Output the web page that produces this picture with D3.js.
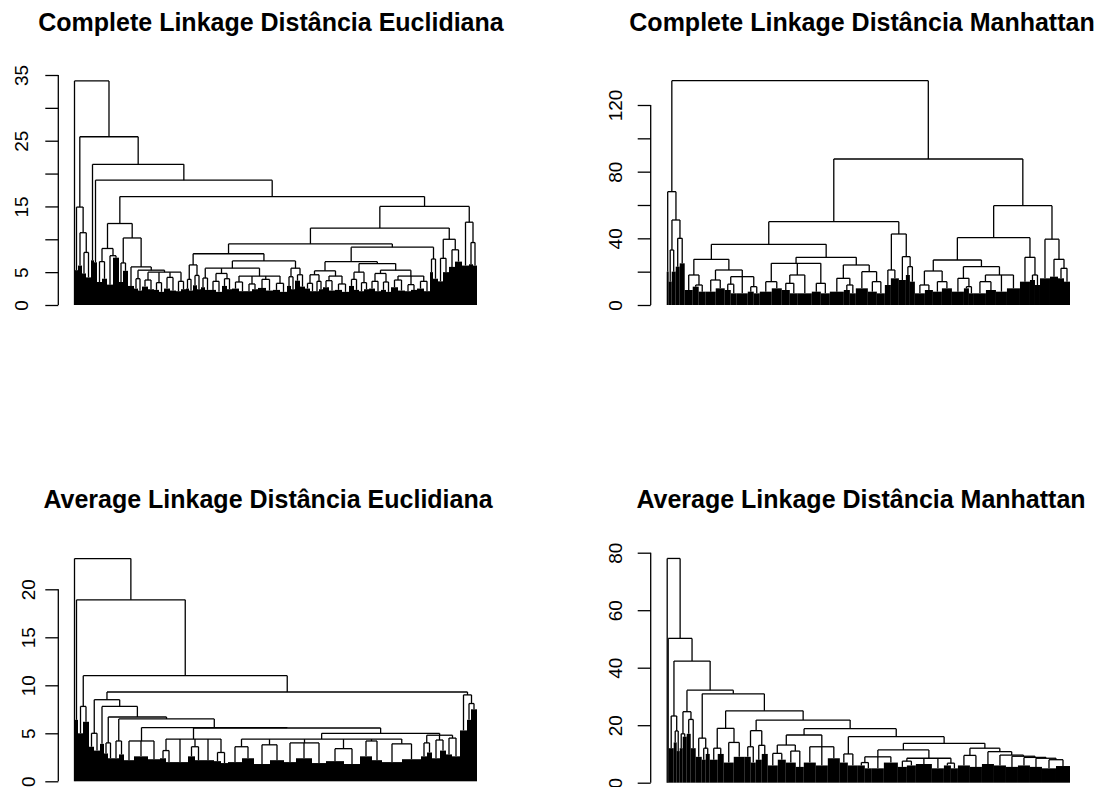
<!DOCTYPE html>
<html>
<head>
<meta charset="utf-8">
<script src="https://cdn.jsdelivr.net/npm/d3@7"></script>
<style>
  body { margin: 0; background: #fff; }
  text { font-family: "Liberation Sans", Arial, sans-serif; }
</style>
</head>
<body>
<div id="chart"></div>
<script>
// trees: a node is [height, child, child, ...]; a dense leaf group is [n observations, max height]
// [1, 0] is a single observation

// Complete linkage, Euclidean
const ceB = [14.9, [3, 5.3], [11.0, [4, 6.0], [8.0, [4, 4.8], [5, 4.2]]]];
const ceG = [8.6, [6.6, [5, 3.5], [5, 4.0]], [7.5, [6, 3.1], [6, 7.2]]];
const ceH = [10.2, [6.4, [4, 3.5], [5, 5.2]],
  [5.8, [6, 2.9], [5.3, [4.0, [4, 2.5], [4, 2.2]],
    [5.0, [3.8, [6, 2.8], [6, 2.4]], [3.4, [5, 2.3], [5, 2.0]], [4.2, [6, 2.5], [6, 2.2]], [3.6, [5, 2.1], [5, 2.4]]]]]];
const ceN = [7.8, [6.1, [3.9, [3, 2.5], [4, 2.2]], [4.5, [4, 3.0], [4, 2.4]]],
  [6.7, [5.6, [4.1, [4, 2.7], [5, 2.3]], [4.8, [3.6, [6, 2.3], [6, 2.0]], [4.0, [5, 2.9], [5, 2.4]]],
              [4.4, [3.5, [7, 2.5], [7, 2.1]], [3.2, [6, 2.1], [6, 2.4]], [3.9, [8, 2.6], [7, 2.2]], [3.3, [7, 2.3], [7, 2.0]]]],
        [5.6, [4.3, [4, 2.9], [4, 2.4]], [4.6, [5, 3.7], [5, 2.8]]]]];
const ceO = [8.8,
  [6.6, [5.2, [4.6, [3.3, [5, 2.5], [5, 2.1]], [3.6, [4, 2.1], [4, 2.4]]], [4.4, [3.7, [6, 2.7], [6, 2.2]], [3.2, [7, 2.3], [7, 2.0]]]],
        [6.3, [5.0, [3.9, [5, 2.9], [5, 2.3]], [3.4, [5, 2.1], [5, 2.4]]],
              [5.3, [4.8, [3.6, [6, 2.5], [6, 2.1]], [3.5, [5, 2.3], [5, 2.0]]],
                    [4.4, [3.8, [7, 2.7], [7, 2.2]], [3.1, [6, 2.1], [6, 2.3]], [3.6, [7, 2.5], [6, 2.1]]]]]],
  [7.0, [3, 5.0], [5, 4.0]]];
const ceM = [10.0, [7.1, [5, 3.6], [6, 5.0]], [8.4, [6, 5.8], [7, 6.6]]];
const ceJr = [12.6, [7, 6.0], [9.5, [4, 6.2], [4, 6.0]]];
const treeCE = [34.1, [1, 0], [25.6, ceB, [21.4, [3, 6.8], [19.0, [3, 6.5],
  [16.5, [12.4, ceG, ceH], [15.0, [11.7, [9.3, ceN, ceO], ceM], ceJr]]]]]];

// Complete linkage, Manhattan
const cmRL = [68.0, [2, 20], [51.0, [33.0, [3, 14], [4, 20]], [40.0, [4, 23], [5, 25]]]];
const cmRa = [27.4, [18.0, [8, 9], [12.0, [6, 11], [7, 8]]],
  [21.0, [15.0, [10, 8], [9, 10]], [17.0, [12.5, [6, 9], [6, 7]], [11, 7], [11.0, [6, 8], [6, 7]]]]];
const cmRb = [28.6, [25.0, [14.0, [12, 8], [10, 10]], [18.0, [13.0, [8, 9], [8, 7]], [14, 7]], [13.0, [9, 8], [9, 7]]],
  [24.0, [16.0, [14, 8], [12.0, [6, 9], [6, 7]]], [20.0, [12, 10], [14.0, [9, 8], [8, 7]]]]];
const cmS = [42.6, [21.0, [6, 12], [8, 16]], [29.0, [7, 15], [23.0, [4, 18], [5, 14]]]];
const cmW = [27.0, [20.4, [12.0, [10, 7], [8, 9]], [14.0, [9, 8], [10, 10]]],
  [23.0, [16.0, [12, 8], [11.0, [5, 10], [5, 7]]], [18.0, [14.0, [12, 7], [10, 9]], [11, 8], [13, 10]]]];
const cmUr = [28.6, [10, 14], [18.0, [5, 15], [5, 12]]];
const cmV = [39.5, [10, 16], [27.4, [8, 17], [22.0, [6, 16], [6, 14]]]];
const treeCM = [134.6, cmRL, [87.6, [50.0, [36.4, cmRa, cmRb], cmS], [59.6, [40.4, cmW, cmUr], cmV]]];

// Average linkage, Euclidean
const aeN1L = [4.2, [10, 2.2], [14, 2.6], [12, 2.3]];
const aeN2L = [4.4, [3.2, [6, 2.4], [6, 2.0]], [16, 2.0], [3.6, [7, 2.6], [7, 2.2]], [12, 2.2], [3.0, [7, 2.1], [7, 1.9]]];
const aeN2R = [5.0,
  [4.4, [3.6, [14, 2.0], [12, 2.4]], [3.8, [16, 1.8], [14, 2.2]], [4.0, [12, 2.0], [16, 2.4], [14, 1.9]],
        [3.4, [18, 2.1], [16, 1.8]], [4.2, [12, 2.6], [10, 2.2]], [3.9, [20, 2.0], [19, 2.3]]],
  [4.8, [4.0, [6, 2.6], [5, 3.0]], [4.3, [8, 2.4], [6, 3.2]], [4.5, [6, 2.8], [8, 2.6]]]];
const aeZr = [9.0, [7, 5.3], [8.1, [4, 6.4], [6, 7.5]]];
const aeChain = [8.5, [5.0, [5, 3.6], [6, 3.2]],
  [7.8, [4, 3.9],
    [6.7, [4.0, [4, 2.9], [5, 2.4]],
      [6.5, [4.2, [6, 2.4], [5, 2.8]],
        [5.6, aeN1L, [5.55, aeN2L, aeN2R]]]]]];
const treeAE = [23.2, [1, 0], [18.9, [3, 6.4], [11.0, [7.8, [5, 5.0], [6, 6.2]], [9.3, aeChain, aeZr]]]];

// Average linkage, Manhattan
const amNA = [23.2, [5, 12], [18.0, [3, 14], [3, 11]]];
const amN32L = [24.7, [17.0, [3, 12], [4, 16]], [22.0, [4, 17], [5, 12]]];
const amN31L = [15.5, [6, 9], [12.0, [4, 8], [4, 10]]];
const amN17 = [18.9, [12.0, [8, 8], [6, 10]], [14.0, [10, 7], [11, 9]]];
const amN21L = [18.1, [12.5, [6, 9], [5, 7]], [13.0, [6, 8], [6, 10]]];
const amN18L = [16.6, [13.1, [10.2, [10, 6], [8, 8]], [11.0, [10, 7], [8, 5.5]]], [12.5, [12, 7], [12, 6], [12, 8.5]]];
const amL2 = [11.4, [9.0, [7.0, [7, 6], [7, 5]], [12, 5], [14, 7]],
  [8.5, [7.5, [9, 5.5], [9, 6]], [16, 6.5], [12, 5], [6.8, [7, 6], [7, 5]]]];
const amC12 = [12.0, [9.5, [12, 6], [12, 5.5]], [10.8, [12, 6.5], [9.6, [12, 6], [9.2, [12, 5.5],
  [8.8, [12, 6], [8.5, [12, 5.5], [8.0, [14, 5], [14, 5.8]]]]]]]];
const amChain = [16.0, [10.0, [8, 7], [10, 6]], [13.7, amL2, amC12]];
const treeAM = [78.0, [1, 0], [50.2, [1, 0], [42.3, amNA, [32.2, amN32L, [30.9, amN31L,
  [25.0, amN17, [21.8, amN21L, [18.8, amN18L, amChain]]]]]]]];

// axes
const ticksCE = [0, 5, 10, 15, 20, 25, 30, 35];
const labelsCE = ["0", "5", "", "15", "", "25", "", "35"];
const ticksCM = [0, 20, 40, 60, 80, 100, 120];
const labelsCM = ["0", "", "40", "", "80", "", "120"];
const ticksAE = [0, 5, 10, 15, 20];
const labelsAE = ["0", "5", "10", "15", "20"];
const ticksAM = [0, 20, 40, 60, 80];
const labelsAM = ["0", "20", "40", "60", "80"];

const titles = [
  "Complete Linkage Distância Euclidiana",
  "Complete Linkage Distância Manhattan",
  "Average Linkage Distância Euclidiana",
  "Average Linkage Distância Manhattan"
];

const panels = [
  { title: titles[0], tree: treeCE, ticks: ticksCE, labels: labelsCE,
    x0: 74, x1: 477, axisX: 58.3, yZero: 305, yRef: 75, refVal: 35, titleX: 271, titleY: 31, labelOff: 30 },
  { title: titles[1], tree: treeCM, ticks: ticksCM, labels: labelsCM,
    x0: 666.7, x1: 1070, axisX: 650.7, yZero: 305, yRef: 105, refVal: 120, titleX: 862, titleY: 31, labelOff: 29 },
  { title: titles[2], tree: treeAE, ticks: ticksAE, labels: labelsAE,
    x0: 74, x1: 477, axisX: 58.3, yZero: 781.3, yRef: 589.3, refVal: 20, titleX: 268, titleY: 508, labelOff: 23 },
  { title: titles[3], tree: treeAM, ticks: ticksAM, labels: labelsAM,
    x0: 666.7, x1: 1070, axisX: 650.7, yZero: 782.7, yRef: 552.7, refVal: 80, titleX: 861, titleY: 508, labelOff: 29 }
];

const svg = d3.select("#chart").append("svg")
  .attr("width", 1108)
  .attr("height", 787);

// walk the tree left to right, leaf groups get consecutive observation slots
function layout(tree) {
  let pos = 0;
  const segs = [], blocks = [];
  function walk(d) {
    if (!Array.isArray(d[1])) {
      const x0 = pos;
      pos += d[0];
      blocks.push({ x0: x0, x1: pos, h: d[1] });
      return { x: (x0 + pos) / 2, h: d[1] };
    }
    const kids = d.slice(1).map(walk);
    kids.forEach(k => segs.push([k.x, k.h, k.x, d[0]]));
    segs.push([kids[0].x, d[0], kids[kids.length - 1].x, d[0]]);
    return { x: (kids[0].x + kids[kids.length - 1].x) / 2, h: d[0] };
  }
  walk(tree);
  return { segs, blocks, n: pos };
}

function drawPanel(p) {
  const lay = layout(p.tree);
  const x = d3.scaleLinear().domain([0, lay.n]).range([p.x0, p.x1]);
  const y = d3.scaleLinear().domain([0, p.refVal]).range([p.yZero, p.yRef]);
  const g = svg.append("g");

  // dense bottom of the dendrogram
  g.selectAll("rect")
    .data(lay.blocks.filter(b => b.h > 0))
    .join("rect")
    .attr("x", b => x(b.x0))
    .attr("width", b => x(b.x1) - x(b.x0))
    .attr("y", b => y(b.h))
    .attr("height", b => y(0) - y(b.h))
    .attr("fill", "#000");

  g.selectAll("path.link")
    .data(lay.segs)
    .join("path")
    .attr("class", "link")
    .attr("d", s => `M${x(s[0])},${y(s[1])}L${x(s[2])},${y(s[3])}`)
    .attr("stroke", "#000")
    .attr("stroke-width", 1.3)
    .attr("fill", "none");

  // y axis, R style: line only between first and last tick, rotated labels
  const axis = d3.axisLeft(y)
    .tickValues(p.ticks)
    .tickSize(13)
    .tickSizeOuter(0)
    .tickFormat((d, i) => p.labels[i]);
  const ga = g.append("g")
    .attr("transform", `translate(${p.axisX},0)`)
    .attr("font-family", null)
    .call(axis);
  ga.select(".domain").remove();
  ga.append("line")
    .attr("y1", y(p.ticks[0]))
    .attr("y2", y(p.ticks[p.ticks.length - 1]))
    .attr("stroke", "#000")
    .attr("stroke-width", 1.3);
  ga.selectAll(".tick line").attr("stroke", "#000").attr("stroke-width", 1.3);
  ga.selectAll(".tick text")
    .attr("x", 0)
    .attr("y", -p.labelOff)
    .attr("dy", 0)
    .attr("transform", "rotate(-90)")
    .attr("text-anchor", "middle")
    .attr("font-size", 19)
    .attr("fill", "#000");

  g.append("text")
    .attr("x", p.titleX)
    .attr("y", p.titleY)
    .attr("text-anchor", "middle")
    .attr("font-weight", "bold")
    .attr("font-size", 25)
    .attr("fill", "#000")
    .text(p.title);
}

panels.forEach(drawPanel);
</script>
</body>
</html>
